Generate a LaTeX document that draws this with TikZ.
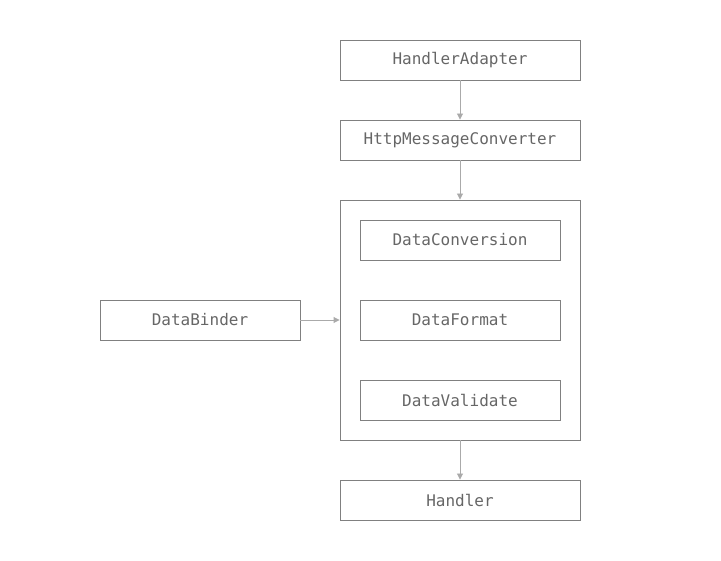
\documentclass[tikz,border=0pt]{standalone}
\usepackage{fontspec}
\setmonofont{DejaVu Sans Mono}
\usetikzlibrary{arrows.meta}
\definecolor{boxline}{HTML}{808080}
\definecolor{txt}{HTML}{666666}
\definecolor{arr}{HTML}{AAAAAA}
\begin{document}
\begin{tikzpicture}[x=1pt,y=-1pt,
  box/.style={draw=boxline,line width=0.9pt,minimum width=#1,minimum height=40pt,inner sep=0pt,font=\ttfamily\fontsize{16}{19}\selectfont,text=txt},
  box/.default=240pt,
  conn/.style={draw=arr,line width=0.9pt,-{Triangle[length=6pt,width=6pt]}}]
\useasboundingbox (0,0) rectangle (721,561);
\node[box] (ha) at (460,60) {\raisebox{-1pt}{HandlerAdapter}};
\node[box] (hmc) at (460,140) {\raisebox{-1pt}{HttpMessageConverter}};
\node[draw=boxline,line width=0.9pt,minimum width=240pt,minimum height=240pt,inner sep=0pt] (big) at (460,320) {};
\node[box=200pt] (dc) at (460,240) {\raisebox{-1pt}{DataConversion}};
\node[box=200pt] (df) at (460,320) {\raisebox{-1pt}{DataFormat}};
\node[box=200pt] (dv) at (460,400) {\raisebox{-1pt}{DataValidate}};
\node[box=200pt] (db) at (200,320) {\raisebox{-1pt}{DataBinder}};
\node[box] (h) at (460,500) {\raisebox{-1pt}{Handler}};
\draw[conn] (ha) -- (hmc);
\draw[conn] (hmc) -- (big);
\draw[conn] (db) -- (big);
\draw[conn] (big) -- (h);
\end{tikzpicture}
\end{document}
